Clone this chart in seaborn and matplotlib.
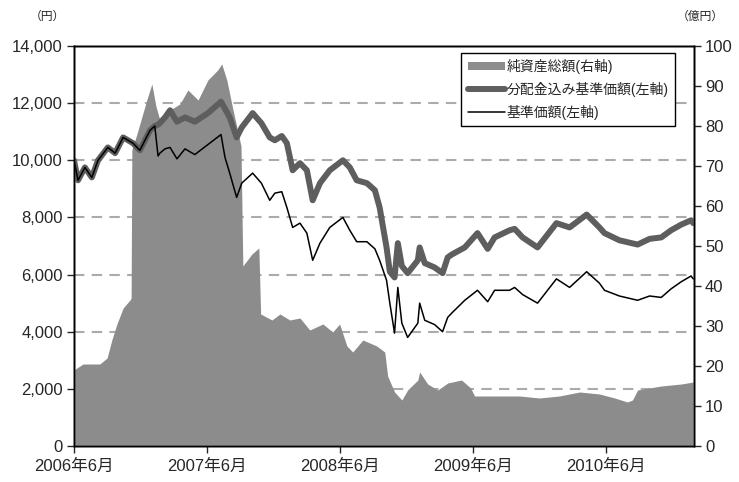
import pandas as pd
import seaborn as sns
import matplotlib.pyplot as plt
from matplotlib.lines import Line2D
from matplotlib.patches import Patch
from matplotlib.ticker import FuncFormatter

# 基準価額 / 分配金込み基準価額 (円, left axis)
line_dates = ["2006-06-01", "2006-06-12", "2006-07-01", "2006-07-20", "2006-08-06", "2006-09-02",
              "2006-09-22", "2006-10-14", "2006-11-10", "2006-11-29", "2006-12-27", "2007-01-09",
              "2007-01-18", "2007-01-23", "2007-02-06", "2007-02-20", "2007-03-11", "2007-04-02",
              "2007-04-29", "2007-06-04", "2007-07-10", "2007-07-21", "2007-08-03", "2007-08-22",
              "2007-09-05", "2007-10-05", "2007-10-29", "2007-11-21", "2007-12-05", "2007-12-24",
              "2008-01-07", "2008-01-23", "2008-02-12", "2008-03-02", "2008-03-18", "2008-04-07",
              "2008-05-04", "2008-06-09", "2008-06-28", "2008-07-17", "2008-08-14", "2008-09-05",
              "2008-09-18", "2008-10-07", "2008-10-16", "2008-10-29", "2008-11-07", "2008-11-18",
              "2008-12-04", "2009-01-01", "2009-01-06", "2009-01-20", "2009-02-16", "2009-03-10",
              "2009-03-24", "2009-04-04", "2009-05-10", "2009-06-14", "2009-07-12", "2009-07-31",
              "2009-09-10", "2009-09-24", "2009-10-16", "2009-11-26", "2010-01-17", "2010-02-22",
              "2010-04-10", "2010-05-15", "2010-05-29", "2010-07-09", "2010-08-28", "2010-09-30",
              "2010-11-01", "2010-11-28", "2010-12-26", "2011-01-22", "2011-01-28"]
nav_with_dist = [10000, 9300, 9750, 9400, 10000, 10450, 10250, 10800, 10600, 10350, 11050, 11200,
                 11250, 11300, 11500, 11750, 11350, 11500, 11350, 11650, 12050, 11800, 11500, 10800,
                 11150, 11650, 11300, 10800, 10700, 10850, 10600, 9650, 9900, 9650, 8600, 9200,
                 9650, 10000, 9750, 9300, 9200, 8950, 8350, 6950, 6100, 5900, 7100, 6300,
                 6050, 6500, 6950, 6400, 6250, 6050, 6600, 6700, 6950, 7450, 6900, 7300,
                 7550, 7600, 7300, 6950, 7800, 7650, 8100, 7650, 7450, 7200, 7050, 7250,
                 7300, 7550, 7750, 7900, 7800]
nav = [10000, 9300, 9750, 9400, 10000, 10450, 10250, 10800, 10600, 10350, 11050, 11200,
       10150, 10250, 10400, 10450, 10050, 10400, 10200, 10550, 10900, 10100, 9550, 8700,
       9200, 9550, 9200, 8600, 8850, 8900, 8350, 7650, 7800, 7450, 6500, 7100,
       7650, 8000, 7550, 7150, 7150, 6900, 6500, 5800, 5000, 3950, 5550, 4300,
       3800, 4300, 5000, 4400, 4250, 4000, 4500, 4650, 5100, 5450, 5050, 5450,
       5450, 5550, 5300, 5000, 5850, 5550, 6100, 5700, 5450, 5250, 5100, 5250,
       5200, 5500, 5750, 5950, 5850]

# 純資産総額 (億円, right axis)
asset_dates = ["2006-06-01", "2006-06-09", "2006-06-26", "2006-08-11", "2006-08-31", "2006-09-13",
               "2006-09-27", "2006-10-14", "2006-11-02", "2006-11-05", "2006-11-07", "2006-11-21",
               "2006-12-18", "2007-01-01", "2007-01-12", "2007-01-23", "2007-02-20", "2007-03-19",
               "2007-04-10", "2007-05-08", "2007-06-04", "2007-07-01", "2007-07-12", "2007-07-26",
               "2007-08-12", "2007-09-03", "2007-09-08", "2007-10-03", "2007-10-22", "2007-10-27",
               "2007-11-27", "2007-12-19", "2008-01-15", "2008-02-12", "2008-03-10", "2008-04-15",
               "2008-05-12", "2008-05-31", "2008-06-20", "2008-07-06", "2008-08-03", "2008-09-10",
               "2008-10-02", "2008-10-10", "2008-10-29", "2008-11-18", "2008-12-04", "2009-01-01",
               "2009-01-06", "2009-01-28", "2009-02-25", "2009-03-24", "2009-05-01", "2009-05-26",
               "2009-06-06", "2009-07-31", "2009-10-08", "2009-12-01", "2010-01-25", "2010-03-22",
               "2010-05-15", "2010-06-26", "2010-07-31", "2010-08-14", "2010-08-28", "2010-11-01",
               "2010-12-26", "2011-01-28"]
net_assets = [19, 19.5, 20.5, 20.5, 22, 26.5,
              30.5, 34.5, 36.5, 37, 74, 78,
              86.5, 90.5, 85, 81.5, 84, 85.5,
              89, 86.5, 91.5, 94, 95.5, 91.5,
              84, 75, 45, 48, 49.5, 33,
              31.5, 33, 31.5, 32, 29, 30.5,
              28.5, 30.5, 25, 23.5, 26.5, 25,
              23.5, 17.5, 13.5, 11.5, 14, 16.5,
              18.5, 15.5, 14, 15.75, 16.5, 14.5,
              12.5, 12.5, 12.5, 12, 12.5, 13.5,
              13, 12, 11, 11.5, 14, 15,
              15.5, 16]

year_ticks = ["2006-06-01", "2007-06-01", "2008-06-01", "2009-06-01", "2010-06-01"]
year_labels = ["2006年6月", "2007年6月", "2008年6月", "2009年6月", "2010年6月"]
legend_labels = ["純資産総額(右軸)", "分配金込み基準価額(左軸)", "基準価額(左軸)"]

df_line = pd.DataFrame({"date": pd.to_datetime(line_dates), "dist": nav_with_dist, "nav": nav})
df_asset = pd.DataFrame({"date": pd.to_datetime(asset_dates), "assets": net_assets})

sns.set_style("white")
plt.rcParams['font.family'] = ['Liberation Sans', 'Noto Sans CJK JP', 'DejaVu Sans']

AREA = "#8c8c8c"
THICK = "#5e5e5e"

fig = plt.figure(figsize=(7.39, 4.82), dpi=100)
ax = fig.add_axes([74 / 739, 36 / 482, 620 / 739, 400 / 482])

# left axis: grid only (kept underneath the area)
ax.set_ylim(0, 14000)
ax.set_yticks(range(0, 14001, 2000))
ax.yaxis.set_major_formatter(FuncFormatter(lambda v, p: f"{int(v):,}"))
for v in range(2000, 14000, 2000):
    ax.axhline(v, color="#ababab", lw=1.5, ls=(0, (5, 3.5)), zorder=0)

# right axis: net assets area
ax2 = ax.twinx()
ax2.fill_between(df_asset["date"], df_asset["assets"], 0, color=AREA, lw=0)
ax2.set_ylim(0, 100)
ax2.set_yticks(range(0, 101, 10))

# lines on top, left scale
ax3 = ax.twinx()
sns.lineplot(data=df_line, x="date", y="dist", ax=ax3, color=THICK, lw=4.3)
sns.lineplot(data=df_line, x="date", y="nav", ax=ax3, color="black", lw=1.1)
ax3.set_ylim(0, 14000)
ax3.set_yticks([])
ax3.set_ylabel("")
ax3.set_xlabel("")

ax.set_xlim(pd.Timestamp("2006-06-01"), pd.Timestamp("2011-01-30"))
ax.set_xticks(pd.to_datetime(year_ticks))
ax.set_xticklabels(year_labels)

for a in (ax, ax2, ax3):
    for s in a.spines.values():
        s.set_color("black")
        s.set_linewidth(1.0)

ax.tick_params(axis="y", left=True, direction="out", length=5, width=1, labelsize=12, pad=3)
ax.tick_params(axis="x", bottom=True, direction="out", length=5, width=1, labelsize=12, pad=4)
ax2.tick_params(axis="y", right=True, direction="out", length=5, width=1, labelsize=12, pad=3)

fig.text(47 / 739, 1 - 17 / 482, "（円）", ha="center", va="center", fontsize=8.5)
fig.text(700 / 739, 1 - 17 / 482, "（億円）", ha="center", va="center", fontsize=8.5)

handles = [Patch(facecolor=AREA, edgecolor="none"),
           Line2D([], [], color=THICK, lw=4.3),
           Line2D([], [], color="black", lw=1.1)]
leg = ax3.legend(handles, legend_labels, loc="upper right", bbox_to_anchor=(0.969, 0.9825),
                 fontsize=10, frameon=True, fancybox=False, framealpha=1, edgecolor="black",
                 handlelength=2.7, handleheight=0.5, handletextpad=0.1, labelspacing=0.55,
                 borderpad=0.45, borderaxespad=0)
leg.get_frame().set_linewidth(1.0)

fig.savefig("out.png", dpi=100)
